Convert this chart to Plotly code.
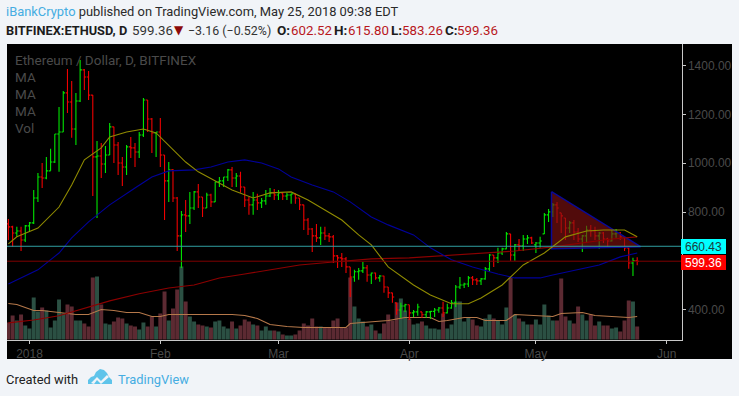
import pandas as pd
import plotly.graph_objects as go

W, H = 739, 396
BG = "#f1f4f8"
GRAY = "#4a4a4a"

opens = [752,740,715,723,686,
 744,756,858,944,940,969,1005,1120,1128,1288,
 1251,1140,1255,1382,1353,1279,1026,1030,997,1034,
 1149,1075,1001,985,1067,1063,1046,1116,1259,1181,
 1124,1128,1034,928,973,858,703,789,785,817,
 883,862,817,870,842,924,928,944,973,940,
 948,903,850,830,850,838,846,866,879,870,
 879,866,870,875,858,830,768,731,703,695,
 715,703,699,621,613,609,576,535,556,560,
 572,543,551,531,539,494,470,429,400,416,
 421,388,392,392,380,392,394,400,408,388,
 408,429,494,502,506,531,523,519,527,568,
 625,613,633,650,711,625,666,662,690,695,
 666,674,711,789,801,830,797,776,735,756,
 719,690,703,727,723,703,715,690,682,711,
 715,699,654,592,602.52]
highs = [772,744,740,740,748,
 760,891,960,1001,1026,1059,1120,1230,1296,1386,
 1337,1288,1423,1386,1378,1279,1091,1083,1071,1165,
 1149,1087,1026,1075,1108,1083,1128,1267,1259,1185,
 1128,1185,1034,1005,977,862,805,850,883,887,
 915,862,879,875,924,944,944,977,985,960,
 965,903,862,883,875,858,891,899,895,891,
 883,879,875,877,858,830,776,735,752,740,
 740,715,707,625,633,617,576,564,572,596,
 584,553,553,543,540,494,470,429,429,425,
 421,400,425,392,396,396,408,412,433,425,
 441,502,535,511,539,539,531,531,576,629,
 625,654,654,719,711,670,690,707,707,699,
 678,699,797,813,838,842,797,776,764,768,
 735,707,744,748,740,719,719,695,727,731,
 719,699,654,613,615.80]
lows = [686,658,699,641,678,
 719,752,842,899,935,969,1001,965,1128,1206,
 1104,1075,1251,1300,1259,866,776,940,960,1034,
 1001,952,907,952,1022,985,1022,1108,1128,1042,
 1026,985,768,842,842,641,572,719,752,809,
 817,780,817,821,842,903,903,928,903,903,
 879,821,789,789,809,817,830,862,850,850,
 850,850,834,834,809,727,707,637,678,666,
 686,678,592,572,576,551,453,515,523,551,
 515,506,523,515,470,449,429,380,367,392,
 359,371,376,367,367,363,371,388,371,385,
 405,412,486,490,494,502,502,502,523,556,
 576,592,625,648,601,601,641,641,670,670,
 633,654,711,760,780,756,715,686,715,686,
 678,637,674,699,686,650,674,654,680,695,
 686,641,568,539,583.26]
closes = [740,715,723,686,744,
 756,858,944,940,969,1005,1120,1128,1288,1251,
 1140,1255,1382,1353,1279,1026,1030,997,1034,1149,
 1075,1001,985,1067,1063,1046,1116,1259,1181,1124,
 1128,1034,928,973,858,703,789,785,817,883,
 862,817,870,842,924,928,944,973,940,948,
 903,850,830,850,838,846,866,879,870,879,
 866,870,875,858,830,768,731,703,695,715,
 703,699,621,613,609,576,535,556,560,572,
 543,551,531,539,494,470,453,400,416,421,
 388,392,412,380,392,394,400,408,388,408,
 429,494,502,506,531,523,519,527,568,625,
 613,633,650,711,625,666,662,690,695,674,
 674,682,789,801,830,817,785,735,756,719,
 690,703,727,723,703,715,690,682,711,715,
 699,654,592,602.52,599.36]
volume_k = [17,24,19,25,14,
 11,42,28,32,29,12,19,40,26,35,
 33,19,19,16,13,62,63,35,16,15,
 18,22,21,16,14,13,10,17,13,23,
 13,26,48,19,31,50,73,38,23,18,
 15,14,13,12,18,19,13,11,18,11,
 14,20,18,15,14,9,13,9,9,8,
 5,4,4,5,9,16,14,21,13,13,
 12,12,19,21,12,12,62,33,21,18,
 13,15,9,6,16,25,19,37,41,29,
 21,15,16,18,14,11,11,10,26,11,
 15,38,38,18,22,20,14,13,21,25,
 21,19,15,32,62,25,21,18,15,15,
 20,15,35,24,19,19,61,23,19,16,
 33,25,19,25,14,18,14,14,11,12,
 8,19,39,38,13]

# moving averages, read at sample days (days counted from 2018-01-01)
ma_fast_days = [-5,-3,2,7,10,13,17,19,23,27,30,34,37,40,44,48,53,57,62,66,70,74,78,81,85,91,95,100,104,107,112,117,122,127,132,136,141,144]
ma_fast_vals = [670,699,735,821,911,1014,1063,1108,1128,1140,1124,1054,1005,965,928,891,858,879,883,850,809,768,707,666,576,502,461,425,425,449,502,584,633,699,723,727,727,699]
ma_mid_days = [-5,-2,2,7,10,14,19,25,29,33,39,43,47,51,55,59,62,67,72,76,81,85,91,95,100,105,111,115,121,124,130,135,140,144]
ma_mid_vals = [506,531,564,633,695,760,830,899,944,969,973,985,1005,1014,1001,977,944,911,883,842,780,748,707,654,605,576,547,531,531,543,564,584,617,633]
ma_slow_days = [-5,1,7,13,19,26,33,39,45,51,57,64,72,81,90,100,109,115,124,131,138,144]
ma_slow_vals = [347,359,376,408,437,466,490,502,531,547,564,584,596,609,613,625,633,641,658,674,690,699]
vol_ma_days = [-5,-3,-1,1,3,5,8,11,14,17,20,23,26,29,31,33,42,48,51,54,57,61,65,69,75,76,81,85,89,95,97,99,103,106,108,113,115,120,124,126,131,134,139,142,144]
vol_ma_vals = [36,35,32,29,29,28,27,25,25,30,29,27,27,23,23,25,25,25,24,21,15,13,12,12,12,16,18,19,22,22,18,19,22,22,19,19,25,24,23,26,27,24,23,22,23]

tri_days = [123.7, 144.8, 123.7, 123.7]
tri_vals = [884, 659, 650, 884]

price_ticks = [400, 800, 1000, 1200, 1400]
date_ticks = ["2018-01-01", "2018-02-01", "2018-03-01", "2018-04-01", "2018-05-01", "2018-06-01"]
date_labels = ["2018", "Feb", "Mar", "Apr", "May", "Jun"]
level_price, last_price = 660.43, 599.36

JAN1 = pd.Timestamp("2018-01-01")
def to_dates(days):
    return [JAN1 + pd.Timedelta(days=float(d)) for d in days]
dates = pd.date_range("2017-12-27", periods=len(closes), freq="D")
assert len(opens) == len(highs) == len(lows) == len(closes) == len(volume_k) == 150

L, R, T, B = 7, 681.5, 44, 340
def px(x, y):
    return x / W, 1 - y / H

fig = go.Figure()
vol_colors = ["#2b5043" if c >= o else "#5c2a32" for o, c in zip(opens, closes)]
fig.add_bar(x=dates, y=volume_k, marker=dict(color=vol_colors, line=dict(width=0)),
            xaxis="x", yaxis="y", hoverinfo="skip")
fig.add_scatter(x=to_dates(vol_ma_days), y=vol_ma_vals, mode="lines",
                line=dict(color="#b5784a", width=1.1), xaxis="x", yaxis="y", hoverinfo="skip")
fig.add_scatter(x=to_dates(tri_days), y=tri_vals, mode="lines", fill="toself",
                fillcolor="rgba(130,18,18,0.62)", line=dict(color="#0a0a96", width=1.5),
                xaxis="x", yaxis="y2", hoverinfo="skip")
fig.add_ohlc(x=dates, open=opens, high=highs, low=lows, close=closes, tickwidth=0.42,
             increasing=dict(line=dict(color="#00e600", width=1.1)),
             decreasing=dict(line=dict(color="#f00000", width=1.1)),
             xaxis="x", yaxis="y2", hoverinfo="skip")
fig.add_scatter(x=to_dates(ma_slow_days), y=ma_slow_vals, mode="lines",
                line=dict(color="#8c0000", width=1.1), xaxis="x", yaxis="y2", hoverinfo="skip")
fig.add_scatter(x=to_dates(ma_mid_days), y=ma_mid_vals, mode="lines",
                line=dict(color="#00009a", width=1.1), xaxis="x", yaxis="y2", hoverinfo="skip")
fig.add_scatter(x=to_dates(ma_fast_days), y=ma_fast_vals, mode="lines",
                line=dict(color="#8f8a00", width=1.1), xaxis="x", yaxis="y2", hoverinfo="skip")

shapes = []
x0, y0 = px(7, 359); x1, y1 = px(732, 44)
shapes.append(dict(type="rect", xref="paper", yref="paper", x0=x0, x1=x1, y0=y0, y1=y1,
                   fillcolor="#000000", line=dict(width=0), layer="below"))
shapes.append(dict(type="line", xref="paper", yref="y2", x0=L / W, x1=R / W, y0=level_price, y1=level_price,
                   line=dict(color="#2f9ea0", width=1)))
shapes.append(dict(type="line", xref="paper", yref="y2", x0=L / W, x1=R / W, y0=last_price, y1=last_price,
                   line=dict(color="#7e0000", width=1)))

def path(points):
    return "M " + " L ".join("%.5f %.5f" % px(a, b) for a, b in points) + " Z"
cloud = [(88,384),(88,380),(91,377),(94,376),(96,372),(100,369),(104,370),(107,373),(109,377),(112,380),(112,384)]
shapes.append(dict(type="path", xref="paper", yref="paper", path=path(cloud),
                   fillcolor="#5fc4ea", line=dict(width=0)))
zig = [(91,383),(97,377),(101,381),(107,375),(109,377),(101,384),(97,380),(94,384)]
shapes.append(dict(type="path", xref="paper", yref="paper", path=path(zig),
                   fillcolor=BG, line=dict(width=0)))

HEAD = "Roboto"
AX = "Liberation Sans"
ann = []
def text(x, y, s, size=13.5, color="#222222", family=HEAD, anchor="left"):
    xx, yy = px(x, y)
    ann.append(dict(x=xx, y=yy, xref="paper", yref="paper", xanchor=anchor, yanchor="middle",
                    text=s, showarrow=False, borderpad=0, borderwidth=0,
                    font=dict(size=size, color=color, family=family)))

text(6, 11, '<span style="color:#45ade2">iBankCrypto</span> published on TradingView.com, May 25, 2018 09:38 EDT', 12.9, "#2a2a2a")
text(6, 30, "<b>BITFINEX:ETHUSD, D</b>", 12.8, "#1c1c1c")
text(132, 30, "599.36", 13.3, "#333333")
text(174, 30, "▼", 12, "#8b0a0a", "DejaVu Sans")
text(188, 30, "−3.16 (−0.52%)", 12.4, "#333333")
R_ = "#b8171c"
text(277, 30, "<b>O:</b>", 13.5, "#1c1c1c"); text(291, 30, "602.52", 13.3, R_)
text(334, 30, "<b>H:</b>", 13.5, "#1c1c1c"); text(348, 30, "615.80", 13.3, R_)
text(391, 30, "<b>L:</b>", 13.5, "#1c1c1c"); text(402, 30, "583.26", 13.3, R_)
text(445, 30, "<b>C:</b>", 13.5, "#1c1c1c"); text(457, 30, "599.36", 13.3, R_)
text(15, 60, "Ethereum / Dollar, D, BITFINEX", 13.5, GRAY)
for i, s in enumerate(["MA", "MA", "MA", "Vol"]):
    text(15, 77 + 17 * i, s, 13.5, GRAY)
text(6, 379, "Created with", 12.9, "#222222")
text(118, 379, "TradingView", 12.9, "#45ade2")

for price, bg, fg, shift in [(level_price, "#00ffff", "#1c3c3c", -0.5), (last_price, "#ff0000", "#ffffff", -1.5)]:
    ann.append(dict(x=681 / W, y=price, xref="paper", yref="y2", xanchor="left", yanchor="middle", yshift=shift,
                    text="%.2f" % price, showarrow=False, bgcolor=bg, width=45, height=15, align="center",
                    borderpad=0, borderwidth=0, font=dict(size=12, color=fg, family=AX)))

fig.update_layout(
    width=W, height=H, margin=dict(l=0, r=0, t=0, b=0), autosize=False,
    paper_bgcolor=BG, plot_bgcolor="rgba(0,0,0,0)", showlegend=False, bargap=0.06,
    shapes=shapes, annotations=ann, hovermode=False,
    xaxis=dict(type="date", domain=[L / W, R / W],
               range=[JAN1 - pd.Timedelta(days=5.33), JAN1 + pd.Timedelta(days=154.5)],
               tickvals=date_ticks, ticktext=date_labels, ticks="outside", ticklen=3, tickcolor="#c8c8c8",
               tickfont=dict(size=12, color=GRAY, family=AX), showgrid=False, zeroline=False,
               showline=True, linecolor="#c8c8c8", linewidth=1, rangeslider=dict(visible=False), anchor="y"),
    yaxis=dict(domain=[1 - B / H, 1 - T / H], range=[-0.5, 295.5], visible=False, fixedrange=True),
    yaxis2=dict(overlaying="y", side="right", anchor="x", range=[277, 1488], tickvals=price_ticks,
                ticktext=["%.2f" % v for v in price_ticks], ticks="outside", ticklen=3, tickcolor="#c8c8c8",
                tickfont=dict(size=12, color=GRAY, family=AX), showgrid=False, zeroline=False,
                showline=True, linecolor="#c8c8c8", linewidth=1),
)
fig.write_html("out.html", config=dict(displayModeBar=False),
               post_script="document.body.style.margin='0';document.body.style.background='%s';" % BG)
